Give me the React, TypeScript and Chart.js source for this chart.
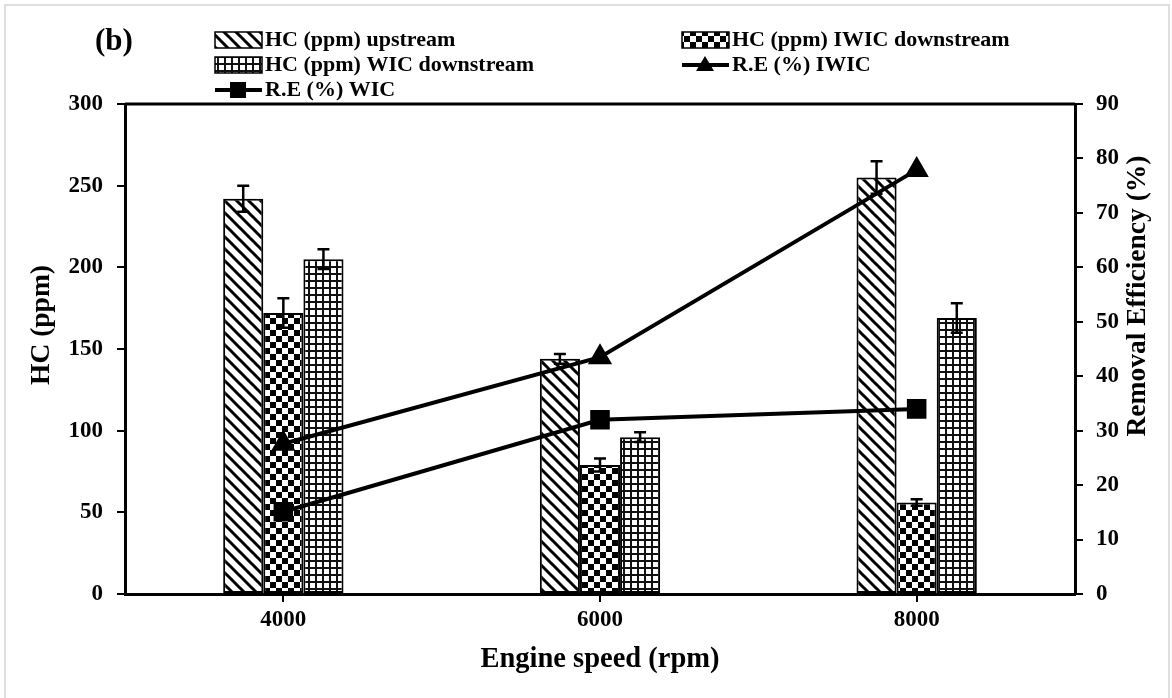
import React, { useEffect, useRef } from "react";
import { Chart, registerables } from "chart.js";

Chart.register(...registerables);

const categories = ["4000", "6000", "8000"];
const hcUpstream = [242, 144, 255];
const hcUpstreamErr = [8, 3, 10];
const hcIwicDown = [172, 79, 56];
const hcIwicErr = [9, 4, 2];
const hcWicDown = [205, 96, 169];
const hcWicErr = [6, 3, 9];
const reIwic = [27.6, 43.5, 77.9];
const reWic = [15.1, 32, 34];

const FONT = "'Liberation Serif', 'Times New Roman', serif";

function makePattern(kind: string): CanvasPattern | string {
  const c = document.createElement("canvas");
  const ctx = c.getContext("2d")!;
  if (kind === "diag") {
    const s = 12;
    c.width = s; c.height = s;
    ctx.fillStyle = "#fff"; ctx.fillRect(0, 0, s, s);
    ctx.strokeStyle = "#000"; ctx.lineWidth = 3;
    for (const o of [-s, 0, s]) {
      ctx.beginPath(); ctx.moveTo(o - 2, -2); ctx.lineTo(o + s + 2, s + 2); ctx.stroke();
    }
  } else if (kind === "checker") {
    const s = 12;
    c.width = s; c.height = s;
    ctx.fillStyle = "#fff"; ctx.fillRect(0, 0, s, s);
    ctx.fillStyle = "#000";
    ctx.fillRect(0, 0, 6, 6); ctx.fillRect(6, 6, 6, 6);
  } else {
    const s = 7;
    c.width = s; c.height = s;
    ctx.fillStyle = "#fff"; ctx.fillRect(0, 0, s, s);
    ctx.fillStyle = "#111";
    ctx.fillRect(0, 0, s, 2); ctx.fillRect(0, 0, 2, s);
  }
  return ctx.createPattern(c, "repeat") || "#000";
}

const errorBarPlugin = {
  id: "errorBars",
  afterDatasetDraw(chart: any, args: any) {
    const ds = chart.data.datasets[args.index];
    if (!ds.errors) return;
    const ctx = chart.ctx;
    const ys = chart.scales.y;
    ctx.save();
    ctx.strokeStyle = "#000";
    ctx.lineWidth = 2.5;
    args.meta.data.forEach((bar: any, i: number) => {
      const v = ds.data[i];
      const e = ds.errors[i];
      const x = bar.x;
      const yt = ys.getPixelForValue(v + e);
      const yb = ys.getPixelForValue(v - e);
      ctx.beginPath();
      ctx.moveTo(x, yt); ctx.lineTo(x, yb);
      ctx.moveTo(x - 6, yt); ctx.lineTo(x + 6, yt);
      ctx.moveTo(x - 6, yb); ctx.lineTo(x + 6, yb);
      ctx.stroke();
    });
    ctx.restore();
  },
};

function drawMarker(ctx: CanvasRenderingContext2D, kind: string, x: number, y: number) {
  ctx.fillStyle = "#000";
  if (kind === "triangle") {
    ctx.beginPath();
    ctx.moveTo(x, y - 9); ctx.lineTo(x + 9, y + 6); ctx.lineTo(x - 9, y + 6); ctx.closePath(); ctx.fill();
  } else {
    ctx.fillRect(x - 8, y - 8, 16, 16);
  }
}

function makeDecorPlugin(pats: any) {
  return {
    id: "decor",
    beforeDraw(chart: any) {
      const ctx = chart.ctx;
      ctx.save();
      ctx.fillStyle = "#fff";
      ctx.fillRect(0, 0, chart.width, chart.height);
      ctx.strokeStyle = "#dedede";
      ctx.lineWidth = 2;
      ctx.strokeRect(5, 5, 1164, 720);
      ctx.restore();
    },
    afterDraw(chart: any) {
      const ctx = chart.ctx;
      const ca = chart.chartArea;
      ctx.save();
      ctx.strokeStyle = "#000";
      ctx.lineWidth = 3;
      ctx.beginPath(); ctx.moveTo(ca.left, ca.top); ctx.lineTo(ca.right, ca.top); ctx.stroke();

      ctx.fillStyle = "#000";
      ctx.textBaseline = "middle";
      ctx.font = `bold 31px ${FONT}`;
      ctx.textAlign = "left";
      ctx.fillText("(b)", 95, 42);

      ctx.font = `bold 22px ${FONT}`;
      const items = [
        { x: 215, y: 40, kind: "bar", pat: pats.diag, label: "HC (ppm) upstream" },
        { x: 682, y: 40, kind: "bar", pat: pats.checker, label: "HC (ppm) IWIC downstream" },
        { x: 215, y: 65, kind: "bar", pat: pats.grid, label: "HC (ppm) WIC downstream" },
        { x: 682, y: 65, kind: "triangle", label: "R.E (%) IWIC" },
        { x: 215, y: 90, kind: "rect", label: "R.E (%) WIC" },
      ];
      for (const it of items) {
        if (it.kind === "bar") {
          ctx.fillStyle = it.pat;
          ctx.fillRect(it.x, it.y - 8, 47, 16);
          ctx.strokeStyle = "#000"; ctx.lineWidth = 1.5;
          ctx.strokeRect(it.x, it.y - 8, 47, 16);
        } else {
          ctx.strokeStyle = "#000"; ctx.lineWidth = 4;
          ctx.beginPath(); ctx.moveTo(it.x, it.y); ctx.lineTo(it.x + 47, it.y); ctx.stroke();
          drawMarker(ctx, it.kind, it.x + 23, it.y);
        }
        ctx.fillStyle = "#000";
        ctx.fillText(it.label, it.x + 50, it.y);
      }

      ctx.font = `bold 28.5px ${FONT}`;
      ctx.textAlign = "center";
      ctx.fillText("Engine speed (rpm)", 600, 660);
      ctx.font = `bold 27.5px ${FONT}`;
      ctx.save();
      ctx.translate(42, 325);
      ctx.rotate(-Math.PI / 2);
      ctx.fillText("HC (ppm)", 0, 0);
      ctx.restore();
      ctx.save();
      ctx.translate(1138, 296);
      ctx.rotate(-Math.PI / 2);
      ctx.fillText("Removal Efficiency (%)", 0, 0);
      ctx.restore();
      ctx.restore();
    },
  };
}

export default function App() {
  const ref = useRef<HTMLCanvasElement>(null);
  useEffect(() => {
    const patterns = { diag: makePattern("diag"), checker: makePattern("checker"), grid: makePattern("grid") };
    const tickFont = { family: FONT, size: 23, weight: "bold" as const };
    const chart = new Chart(ref.current!, {
      type: "bar",
      data: {
        labels: categories,
        datasets: [
          { type: "line", label: "R.E (%) IWIC", data: reIwic, yAxisID: "y1", order: 0, borderColor: "#000", backgroundColor: "#000", borderWidth: 4, pointStyle: "triangle", pointRadius: 10, pointBackgroundColor: "#000", pointBorderColor: "#000", tension: 0 } as any,
          { type: "line", label: "R.E (%) WIC", data: reWic, yAxisID: "y1", order: 0, borderColor: "#000", backgroundColor: "#000", borderWidth: 4, pointStyle: "rect", pointRadius: 11, pointBackgroundColor: "#000", pointBorderColor: "#000", tension: 0 } as any,
          { type: "bar", label: "HC (ppm) upstream", data: hcUpstream, errors: hcUpstreamErr, yAxisID: "y", order: 1, backgroundColor: patterns.diag, borderColor: "#000", borderWidth: 2, borderSkipped: false } as any,
          { type: "bar", label: "HC (ppm) IWIC downstream", data: hcIwicDown, errors: hcIwicErr, yAxisID: "y", order: 1, backgroundColor: patterns.checker, borderColor: "#000", borderWidth: 2, borderSkipped: false } as any,
          { type: "bar", label: "HC (ppm) WIC downstream", data: hcWicDown, errors: hcWicErr, yAxisID: "y", order: 1, backgroundColor: patterns.grid, borderColor: "#000", borderWidth: 2, borderSkipped: false } as any,
        ],
      },
      options: {
        responsive: false,
        animation: false,
        devicePixelRatio: 1,
        layout: { padding: { top: 104, left: 0, right: 0, bottom: 0 } },
        datasets: { bar: { categoryPercentage: 0.38, barPercentage: 1 } },
        plugins: { legend: { display: false }, tooltip: { enabled: false } },
        scales: {
          x: {
            offset: true,
            grid: { offset: false, drawOnChartArea: false, drawTicks: true, tickLength: 8, color: "#000", lineWidth: 2 },
            border: { display: true, color: "#000", width: 3 },
            ticks: { font: tickFont, color: "#000", padding: 4 },
            afterFit: (s: any) => { s.height = 104; },
          },
          y: {
            position: "left",
            min: 0, max: 300,
            ticks: { stepSize: 50, font: tickFont, color: "#000", padding: 14 },
            grid: { drawOnChartArea: false, drawTicks: true, tickLength: 8, color: "#000", lineWidth: 2 },
            border: { display: true, color: "#000", width: 3 },
            afterFit: (s: any) => { s.width = 125; },
          },
          y1: {
            position: "right",
            min: 0, max: 90,
            ticks: { stepSize: 10, font: tickFont, color: "#000", padding: 13 },
            grid: { drawOnChartArea: false, drawTicks: true, tickLength: 8, color: "#000", lineWidth: 2 },
            border: { display: true, color: "#000", width: 3 },
            afterFit: (s: any) => { s.width = 97; },
          },
        },
      } as any,
      plugins: [errorBarPlugin, makeDecorPlugin(patterns)],
    });
    return () => chart.destroy();
  }, []);
  return (
    <div style={{ position: "fixed", left: 0, top: 0, width: 1172, height: 698, background: "#fff" }}>
      <canvas ref={ref} width={1172} height={698} style={{ display: "block", width: 1172, height: 698 }} />
    </div>
  );
}
